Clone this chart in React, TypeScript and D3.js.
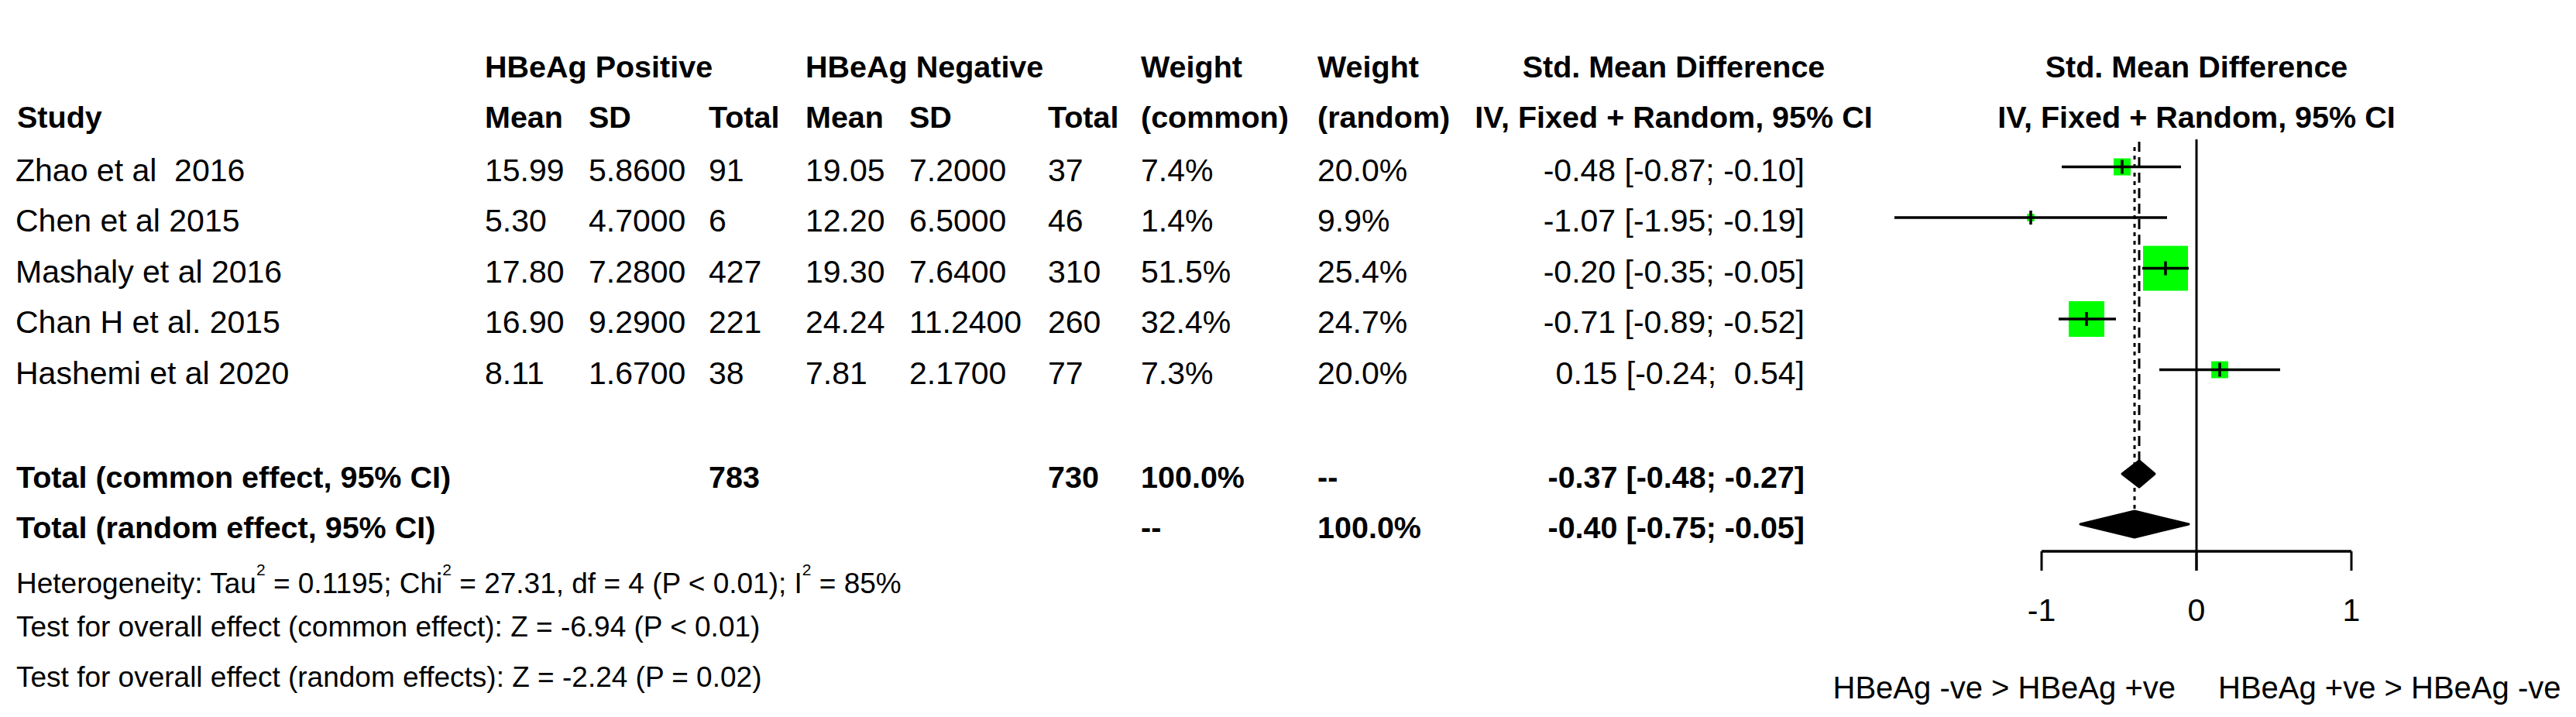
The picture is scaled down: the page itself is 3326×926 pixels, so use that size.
import React from 'react';
import * as d3 from 'd3';

// ---------- data ----------
const studies = ['Zhao et al  2016', 'Chen et al 2015', 'Mashaly et al 2016', 'Chan H et al. 2015', 'Hashemi et al 2020'];
const posMean = [15.99, 5.3, 17.8, 16.9, 8.11];
const posSD = [5.86, 4.7, 7.28, 9.29, 1.67];
const posN = [91, 6, 427, 221, 38];
const negMean = [19.05, 12.2, 19.3, 24.24, 7.81];
const negSD = [7.2, 6.5, 7.64, 11.24, 2.17];
const negN = [37, 46, 310, 260, 77];
const weightCommon = [7.4, 1.4, 51.5, 32.4, 7.3];
const weightRandom = [20.0, 9.9, 25.4, 24.7, 20.0];
const smd = [-0.48, -1.07, -0.2, -0.71, 0.15];
const smdLower = [-0.87, -1.95, -0.35, -0.89, -0.24];
const smdUpper = [-0.1, -0.19, -0.05, -0.52, 0.54];

const pooledLabels = ['Total (common effect, 95% CI)', 'Total (random effect, 95% CI)'];
const pooledEst = [-0.37, -0.4];
const pooledLower = [-0.48, -0.75];
const pooledUpper = [-0.27, -0.05];
const pooledPosN = ['783', ''];
const pooledNegN = ['730', ''];
const pooledWCommon = ['100.0%', '--'];
const pooledWRandom = ['--', '100.0%'];

const axisTicks = [-1, 0, 1];
const axisLabelLeft = 'HBeAg -ve > HBeAg +ve';
const axisLabelRight = 'HBeAg +ve > HBeAg -ve';

const FONT = '"Liberation Sans", Arial, Helvetica, sans-serif';

const f2 = (v: number) => v.toFixed(2);
const f4 = (v: number) => v.toFixed(4);
const padU = (v: number) => (v < 0 ? '' : ' ') + v.toFixed(2);
const effText = (e: number, l: number, u: number) => `${f2(e)} [${f2(l)}; ${padU(u)}]`;

export default function App() {
  const W = 3326;
  const H = 926;
  const x = d3.scaleLinear().domain([-1, 1]).range([2636, 3036]);
  const rowBase = d3.scaleLinear().domain([0, 1]).range([233.5, 299]);
  const pooledBase = [630, 695];
  const size = d3.scaleSqrt().domain([0, d3.max(weightCommon) as number]).range([0, 58]);

  const fs = 41;
  const fsb = 39.5;
  const fsSmall = 37;
  const cx = {
    study: 20, posMean: 626, posSD: 760, posN: 915, negMean: 1040, negSD: 1174, negN: 1353,
    wC: 1473, wR: 1701, effEnd: 2330, effHead: 2161, plotHead: 2836,
  };

  const textStyle: React.CSSProperties = { whiteSpace: 'pre' };
  const T = (props: any) => (
    <text fontFamily={FONT} fontSize={fs} fill="#000" style={textStyle} {...props} />
  );
  const B = (props: any) => (
    <text fontFamily={FONT} fontSize={fsb} fontWeight="bold" fill="#000" style={textStyle} {...props} />
  );

  const axisY = 712;
  const tickLen = 25;
  const diamondH = 17;

  return (
    <svg width={W} height={H} style={{ position: 'absolute', left: 0, top: 0, background: '#fff' }}>
      <rect x={0} y={0} width={W} height={H} fill="#fff" />
      {/* headers */}
      <B x={cx.posMean} y={100}>HBeAg Positive</B>
      <B x={cx.negMean} y={100}>HBeAg Negative</B>
      <B x={cx.wC} y={100}>Weight</B>
      <B x={cx.wR} y={100}>Weight</B>
      <B x={cx.effHead} y={100} textAnchor="middle">Std. Mean Difference</B>
      <B x={cx.plotHead} y={100} textAnchor="middle">Std. Mean Difference</B>

      <B x={cx.study + 2} y={165}>Study</B>
      <B x={cx.posMean} y={165}>Mean</B>
      <B x={cx.posSD} y={165}>SD</B>
      <B x={cx.posN} y={165}>Total</B>
      <B x={cx.negMean} y={165}>Mean</B>
      <B x={cx.negSD} y={165}>SD</B>
      <B x={cx.negN} y={165}>Total</B>
      <B x={cx.wC} y={165}>(common)</B>
      <B x={cx.wR} y={165}>(random)</B>
      <B x={cx.effHead} y={165} textAnchor="middle">IV, Fixed + Random, 95% CI</B>
      <B x={cx.plotHead} y={165} textAnchor="middle">IV, Fixed + Random, 95% CI</B>

      {/* study rows */}
      {studies.map((s, i) => {
        const yb = rowBase(i);
        return (
          <g key={s}>
            <T x={cx.study} y={yb}>{s}</T>
            <T x={cx.posMean} y={yb}>{f2(posMean[i])}</T>
            <T x={cx.posSD} y={yb}>{f4(posSD[i])}</T>
            <T x={cx.posN} y={yb}>{String(posN[i])}</T>
            <T x={cx.negMean} y={yb}>{f2(negMean[i])}</T>
            <T x={cx.negSD} y={yb}>{f4(negSD[i])}</T>
            <T x={cx.negN} y={yb}>{String(negN[i])}</T>
            <T x={cx.wC} y={yb}>{weightCommon[i].toFixed(1) + '%'}</T>
            <T x={cx.wR} y={yb}>{weightRandom[i].toFixed(1) + '%'}</T>
            <T x={cx.effEnd} y={yb} textAnchor="end">{effText(smd[i], smdLower[i], smdUpper[i])}</T>
          </g>
        );
      })}

      {/* pooled rows */}
      {pooledLabels.map((l, i) => {
        const yb = pooledBase[i];
        return (
          <g key={l}>
            <B x={cx.study + 1} y={yb}>{l}</B>
            <B x={cx.posN} y={yb}>{pooledPosN[i]}</B>
            <B x={cx.negN} y={yb}>{pooledNegN[i]}</B>
            <B x={cx.wC} y={yb}>{pooledWCommon[i]}</B>
            <B x={cx.wR} y={yb}>{pooledWRandom[i]}</B>
            <B x={cx.effEnd} y={yb} textAnchor="end">{effText(pooledEst[i], pooledLower[i], pooledUpper[i])}</B>
          </g>
        );
      })}

      {/* heterogeneity and tests */}
      <text x={21} y={766} fontFamily={FONT} fontSize={fsSmall} fill="#000" style={textStyle}>
        Heterogeneity: Tau<tspan fontSize={21} dy={-23}>2</tspan>
        <tspan dy={23}> = 0.1195; Chi</tspan><tspan fontSize={21} dy={-23}>2</tspan>
        <tspan dy={23}> = 27.31, df = 4 (P &lt; 0.01); I</tspan><tspan fontSize={21} dy={-23}>2</tspan>
        <tspan dy={23}> = 85%</tspan>
      </text>
      <text x={21} y={822} fontFamily={FONT} fontSize={fsSmall} fill="#000" style={textStyle}>
        Test for overall effect (common effect): Z = -6.94 (P &lt; 0.01)
      </text>
      <text x={21} y={887} fontFamily={FONT} fontSize={fsSmall} fill="#000" style={textStyle}>
        Test for overall effect (random effects): Z = -2.24 (P = 0.02)
      </text>

      {/* forest plot */}
      <line x1={x(0)} x2={x(0)} y1={180} y2={axisY + tickLen} stroke="#000" strokeWidth={3} />
      <line x1={x(pooledEst[0])} x2={x(pooledEst[0])} y1={183} y2={pooledBase[0] - 18 - diamondH}
        stroke="#000" strokeWidth={3} strokeDasharray="13 7" />
      <line x1={x(pooledEst[1])} x2={x(pooledEst[1])} y1={190} y2={pooledBase[1] - 18 - diamondH}
        stroke="#000" strokeWidth={3} strokeDasharray="5 6" />

      {studies.map((s, i) => {
        const cy = rowBase(i) - 18;
        const sz = size(weightCommon[i]);
        return (
          <g key={'f' + s}>
            <rect x={x(smd[i]) - sz / 2} y={cy - sz / 2} width={sz} height={sz} fill="#00ff00" />
            <line x1={x(smdLower[i])} x2={x(smdUpper[i])} y1={cy} y2={cy} stroke="#000" strokeWidth={3.5} />
            <line x1={x(smd[i])} x2={x(smd[i])} y1={cy - 9} y2={cy + 9} stroke="#000" strokeWidth={3.5} />
          </g>
        );
      })}

      {pooledEst.map((e, i) => {
        const cy = pooledBase[i] - 18;
        const d = `M${x(pooledLower[i])},${cy} L${x(e)},${cy - diamondH} L${x(pooledUpper[i])},${cy} L${x(e)},${cy + diamondH} Z`;
        return <path key={'d' + i} d={d} fill="#000" stroke="#000" strokeWidth={3} strokeLinejoin="round" />;
      })}

      {/* axis */}
      <line x1={x(-1)} x2={x(1)} y1={axisY} y2={axisY} stroke="#000" strokeWidth={3.5} />
      {axisTicks.map((t) => (
        <g key={'t' + t}>
          <line x1={x(t)} x2={x(t)} y1={axisY} y2={axisY + tickLen} stroke="#000" strokeWidth={3} />
          <T x={x(t)} y={802} textAnchor="middle">{String(t)}</T>
        </g>
      ))}
      <T x={x(0) - 27} y={902} textAnchor="end" fontSize={40}>{axisLabelLeft}</T>
      <T x={x(0) + 28} y={902} textAnchor="start" fontSize={40}>{axisLabelRight}</T>
    </svg>
  );
}
